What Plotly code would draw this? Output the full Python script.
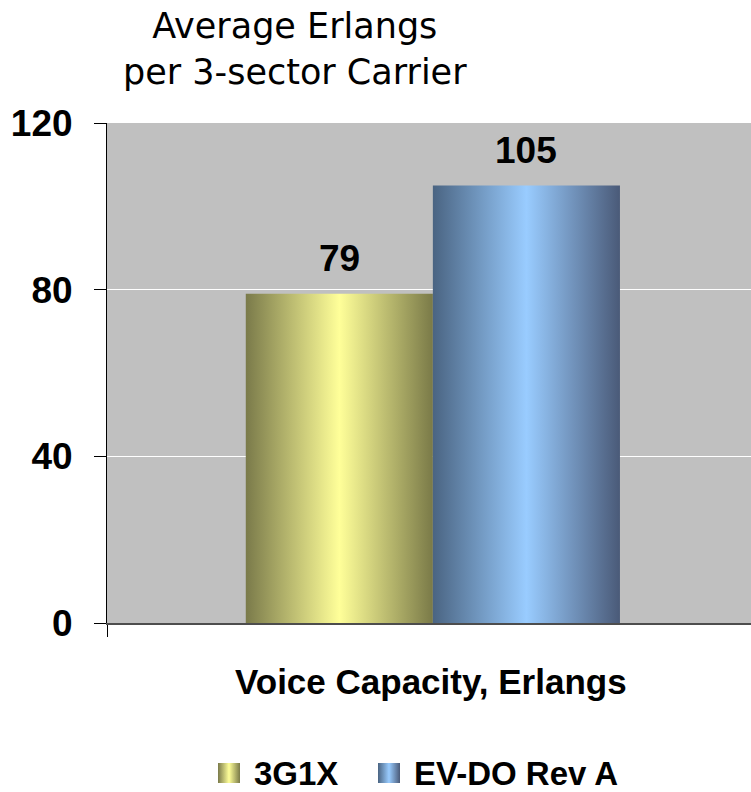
import base64
import plotly.graph_objects as go

# ---------------- data ----------------
categories = ["Voice Capacity, Erlangs"]
series_names = ["3G1X", "EV-DO Rev A"]
series_values = [79, 105]
y_tick_values = [0, 40, 80, 120]
title_lines = ["Average Erlangs", "per 3-sector Carrier"]

# ---------------- styles ----------------
gradients = [
    ["#7a7a4a", "#ffff99", "#7a7a48"],   # 3G1X
    ["#4a6482", "#99ccff", "#4a5a78"],   # EV-DO Rev A
]
W, H = 751, 792
L, R, T, B = 107, 751, 123, 623          # plot area in pixels
BAR_W = 0.2905                            # bar width as fraction of a category
X_RANGE = [-0.506, 0.494]
BOLD = "Arial, 'Liberation Sans', sans-serif"


def px_x(px):
    return (px - L) / (R - L)


def px_y(py):
    return (B - py) / (B - T)


def grad_uri(cols):
    stops = "".join(
        f'<stop offset="{k / (len(cols) - 1):.2f}" stop-color="{c}"/>'
        for k, c in enumerate(cols)
    )
    svg = (
        '<svg xmlns="http://www.w3.org/2000/svg" width="22" height="20" '
        'preserveAspectRatio="none" viewBox="0 0 22 20">'
        f'<defs><linearGradient id="g" x1="0" y1="0" x2="1" y2="0">{stops}</linearGradient></defs>'
        '<rect x="0" y="0" width="22" height="20" fill="url(#g)"/></svg>'
    )
    return "data:image/svg+xml;base64," + base64.b64encode(svg.encode()).decode()


fig = go.Figure()
n = len(series_values)
annotations = []
for i, (name, val) in enumerate(zip(series_names, series_values)):
    center = (i - (n - 1) / 2) * BAR_W
    x0, x1 = center - BAR_W / 2, center + BAR_W / 2
    cols = gradients[i]
    cs = [[k / (len(cols) - 1), c] for k, c in enumerate(cols)]
    fig.add_trace(go.Scatter(
        x=[x0, x0, x1, x1, x0],
        y=[0, val, val, 0, 0],
        mode="none",
        fill="toself",
        fillgradient=dict(type="horizontal", colorscale=cs, start=x0, stop=x1),
        name=name,
        showlegend=False,
        hoverinfo="name+y",
    ))
    annotations.append(dict(
        x=center, y=val, xref="x", yref="y",
        text=f"<b>{val}</b>", showarrow=False,
        yanchor="bottom", yshift=13,
        font=dict(family=BOLD, size=37, color="black"),
    ))

# title
annotations.append(dict(
    xref="paper", yref="paper", x=px_x(295), y=px_y(49),
    xanchor="center", yanchor="middle",
    text="<br>".join(title_lines), showarrow=False,
    font=dict(family="DejaVu Sans, Verdana, sans-serif", size=35, color="black"),
))
# category / axis title
annotations.append(dict(
    xref="paper", yref="paper", x=px_x(431), y=px_y(682),
    xanchor="center", yanchor="middle",
    text=f"<b>{categories[0]}</b>", showarrow=False,
    font=dict(family=BOLD, size=35, color="black"),
))

# custom legend
legend_swatch_x = [218, 378]
legend_text_x = [252, 412]
images = []
for i, name in enumerate(series_names):
    images.append(dict(
        source=grad_uri(gradients[i]),
        xref="paper", yref="paper",
        x=px_x(legend_swatch_x[i]), y=px_y(763),
        sizex=22 / (R - L), sizey=20 / (B - T),
        xanchor="left", yanchor="top", sizing="stretch", layer="above",
    ))
    annotations.append(dict(
        xref="paper", yref="paper", x=px_x(legend_text_x[i]), y=px_y(773),
        xanchor="left", yanchor="middle",
        text=f"<b>{name}</b>", showarrow=False,
        font=dict(family=BOLD, size=33, color="black"),
    ))

fig.update_layout(
    width=W, height=H,
    margin=dict(l=L, r=W - R, t=T, b=H - B, pad=0),
    paper_bgcolor="white",
    plot_bgcolor="#c0c0c0",
    showlegend=False,
    annotations=annotations,
    images=images,
    xaxis=dict(
        range=X_RANGE, showgrid=False, zeroline=False,
        showline=True, linecolor="#4d4d4d", linewidth=2,
        tickmode="array", tickvals=[X_RANGE[0]], ticks="outside",
        ticklen=12, tickcolor="black", tickwidth=1,
        showticklabels=False, fixedrange=True, layer="above traces",
    ),
    yaxis=dict(
        range=[0, 120], tickmode="array", tickvals=y_tick_values,
        ticks="outside", ticklen=12, tickcolor="black", tickwidth=1,
        showline=True, linecolor="black", linewidth=1,
        showgrid=True, gridcolor="white", gridwidth=1,
        zeroline=False, ticklabelstandoff=14,
        tickfont=dict(family=BOLD, size=37, color="black", weight="bold"),
        fixedrange=True, layer="above traces",
    ),
)

fig.write_html("out.html", config={"displayModeBar": False})
